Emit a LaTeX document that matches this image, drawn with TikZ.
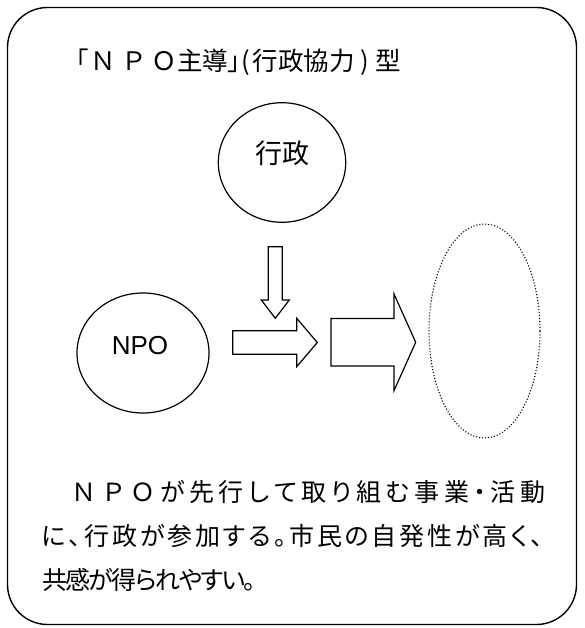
\documentclass[tikz,border=0pt]{standalone}
\usepackage{fontspec}
\setmainfont{Liberation Sans}
\newfontfamily\jp{Noto Sans CJK JP}
\newfontfamily\jpp[RawFeature=+palt]{Noto Sans CJK JP}
\usetikzlibrary{shapes.geometric}
\makeatletter
\def\spreadline#1{\spr@A#1\spr@end}
\def\spr@A#1#2\spr@end{{#1}\ifx\relax#2\relax\else\hskip 0pt plus 1fil minus 1fil\relax\spr@A#2\spr@end\fi}
\makeatother
\tikzset{
  frame/.style={line width=1.4pt, rounded corners=40pt},
  roundbox/.style={draw, ellipse, line width=1.2pt, inner sep=0pt},
  goalbox/.style={draw, ellipse, line width=1.1pt, dash pattern=on 1.1pt off 1.9pt, inner sep=0pt},
  blockarrow/.style={draw, line width=1.2pt, line join=miter, fill=white},
  bodyline/.style={anchor=base west, inner sep=0pt, font=\fontsize{25}{30}\selectfont\jpp},
}
\begin{document}
\begin{tikzpicture}[x=1pt,y=-1pt]
\useasboundingbox (0,0) rectangle (584,628);
\draw[frame] (7.5,7.5) rectangle (576.5,624.5);

\node[anchor=base west, inner sep=0pt, font=\fontsize{25.5}{30}\selectfont\jpp] (title) at (76,71)
  {「\kern2pt{\jp Ｎ\kern5ptＰ\kern5ptＯ}主導」(\kern3pt 行政協力\kern6pt)\kern6pt 型};

\node[roundbox, minimum width=127.4pt, minimum height=119.6pt,
      font=\fontsize{27}{30}\selectfont\jp, text height=20pt, text depth=17.4pt] (gyosei) at (282,162.5) {行政};
\node[roundbox, minimum width=132pt, minimum height=120pt,
      font=\fontsize{26}{30}\selectfont, text height=19pt, text depth=16.2pt] (npo) at (143,353) {NPO\hspace*{6pt}};
\node[goalbox, minimum width=111pt, minimum height=214pt] (goal) at (484.5,331) {};

\draw[blockarrow] (268.3,246.7) -- (282.3,246.7) -- (282.3,300) -- (289.3,300) -- (275.3,318.3)
  -- (261.3,300) -- (268.3,300) -- cycle;
\draw[blockarrow] (232.7,330.7) -- (296.7,330.7) -- (296.7,318.3) -- (317.3,342.5) -- (296.7,366.7)
  -- (296.7,354.3) -- (232.7,354.3) -- cycle;
\draw[blockarrow] (331,318.5) -- (394,318.5) -- (394,294) -- (415.7,342.3) -- (394,390.6)
  -- (394,366) -- (331,366) -- cycle;

\node[bodyline] (line1) at (42,501.5)
  {\hbox to 503pt{\spreadline{　{\jp Ｎ}{\jp Ｐ}{\jp Ｏ}が先行して取り組む事業・活動}}};
\node[bodyline] (line2) at (42,545.5)
  {\hbox to 501pt{\spreadline{に、行政が参加する。市民の自発性が高く、}}};
\node[bodyline] (line3) at (42,589.5)
  {\hbox to 214pt{\spreadline{共感が得られやすい。}}};
\end{tikzpicture}
\end{document}
